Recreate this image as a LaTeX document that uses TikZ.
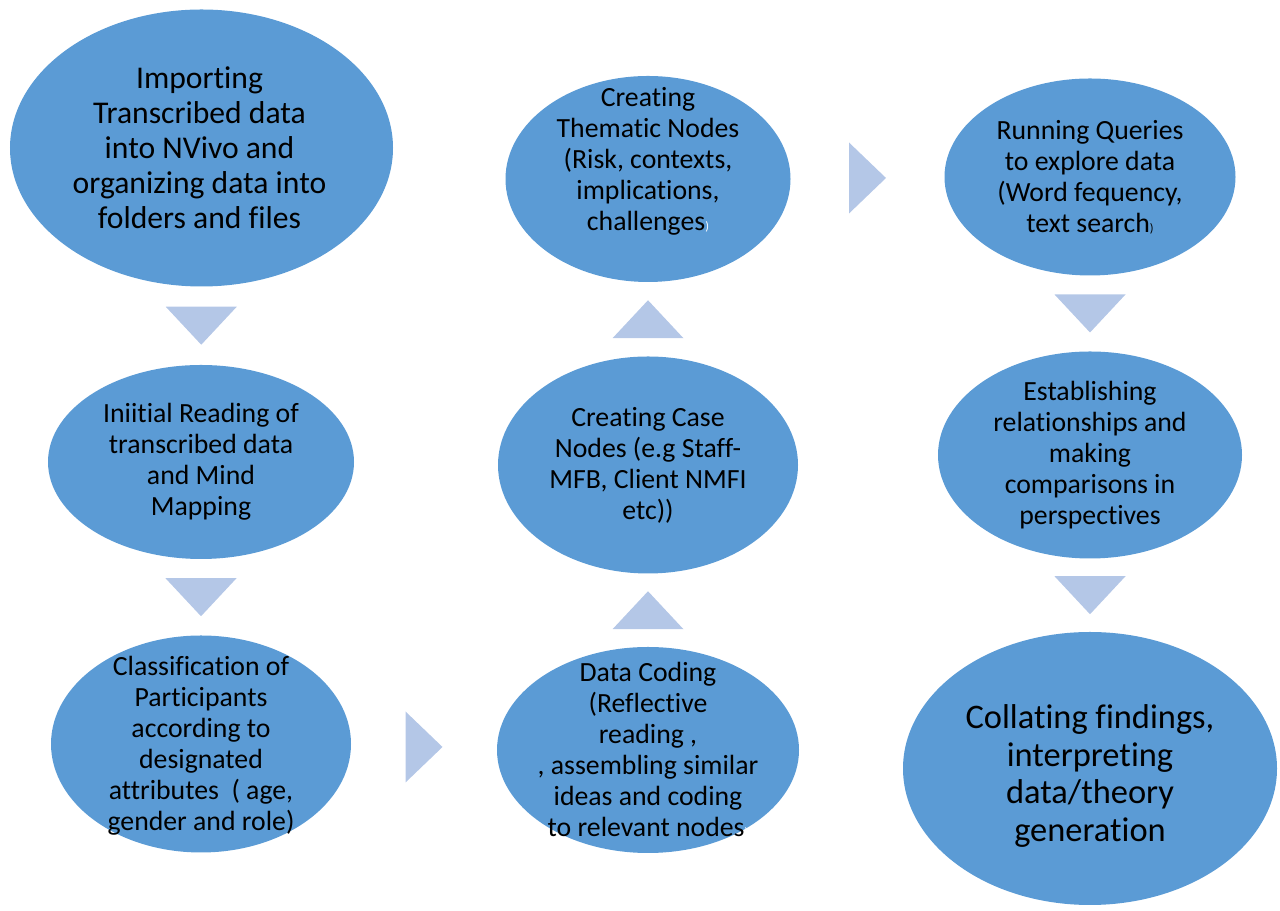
\documentclass[tikz,border=0pt]{standalone}
\usepackage{fontspec}
\setmainfont{Carlito}[Ligatures=NoCommon]
\usetikzlibrary{shapes.geometric,calc}
\definecolor{blobblue}{HTML}{5B9BD5}
\definecolor{triblue}{HTML}{B4C7E7}

\begin{document}
\begin{tikzpicture}[
  blob/.style={ellipse, fill=blobblue, inner sep=0pt},
  txt/.style={align=center, inner sep=0pt, font=\fontsize{15.8}{17.6}\selectfont},
  bigtxt/.style={txt, font=\fontsize{18}{19.9}\selectfont},
  hugetxt/.style={txt, font=\fontsize{19.6}{21.6}\selectfont},
  tri/.style={fill=triblue}]
\useasboundingbox (0,0) rectangle (25.6,18.22);
\node[blob, minimum width=7.66cm, minimum height=5.54cm] (imp) at (4.03,15.26) {};
\node[bigtxt] (impT) at (3.99,15.26) {Importing\\Transcribed data\\into NVivo and\\organizing data into\\folders and files};
\node[blob, minimum width=6.12cm, minimum height=3.88cm] (read) at (4.02,8.98) {};
\node[txt] (readT) at (read) {Iniitial Reading of\\transcribed data\\and Mind\\Mapping};
\node[blob, minimum width=6.00cm, minimum height=4.34cm] (class) at (4.02,3.34) {};
\node[txt] (classT) at (4.02,3.30) {Classification of\\Participants\\according to\\designated\\attributes~~( age,\\gender and role)};
\node[blob, minimum width=6.04cm, minimum height=4.12cm] (code) at (12.96,3.22) {};
\node[txt] (codeT) at (12.96,3.22) {Data Coding\\(Reflective\\reading ,\\, assembling similar\\ideas and coding\\to relevant nodes{\color{white}\scriptsize)}};
\node[blob, minimum width=6.00cm, minimum height=4.34cm] (case) at (12.96,8.92) {};
\node[txt] (caseT) at (case) {Creating Case\\Nodes (e.g Staff-\\MFB, Client NMFI\\etc))};
\node[blob, minimum width=5.70cm, minimum height=4.12cm] (them) at (12.96,14.64) {};
\node[txt] (themT) at (12.96,15.00) {Creating\\Thematic Nodes\\(Risk, contexts,\\implications,\\challenges{\color{white}\scriptsize)}};
\node[blob, minimum width=5.82cm, minimum height=3.94cm] (query) at (21.8,14.68) {};
\node[txt] (queryT) at (query) {Running Queries\\to explore data\\(Word fequency,\\text search{\scriptsize)}};
\node[blob, minimum width=6.08cm, minimum height=4.14cm] (estab) at (21.8,9.12) {};
\node[txt] (estabT) at (estab) {Establishing\\relationships and\\making\\comparisons in\\perspectives};
\node[blob, minimum width=7.48cm, minimum height=5.46cm] (coll) at (21.8,2.85) {};
\node[hugetxt] (collT) at (21.8,2.70) {Collating findings,\\interpreting\\data/theory\\generation};
\coordinate (m1) at ($(imp.south)!.5!(read.north)$);
\coordinate (m2) at ($(read.south)!.5!(class.north)$);
\coordinate (m3) at ($(class.east)!.5!(code.west)$);
\coordinate (m4) at ($(code.north)!.5!(case.south)$);
\coordinate (m5) at ($(case.north)!.5!(them.south)$);
\coordinate (m6) at ($(them.east)!.5!(query.west)$);
\coordinate (m7) at ($(query.south)!.5!(estab.north)$);
\coordinate (m8) at ($(estab.south)!.5!(coll.north)$);
\fill[tri, shift={(m1)}] (-0.71,0.38) -- (0.71,0.38) -- (0,-0.38) -- cycle;
\fill[tri, shift={(m2)}] (-0.71,0.38) -- (0.71,0.38) -- (0,-0.38) -- cycle;
\fill[tri, shift={(m3)}] (-0.37,0.71) -- (-0.37,-0.71) -- (0.37,0) -- cycle;
\fill[tri, shift={(m4)}] (-0.71,-0.38) -- (0.71,-0.38) -- (0,0.38) -- cycle;
\fill[tri, shift={(m5)}] (-0.71,-0.38) -- (0.71,-0.38) -- (0,0.38) -- cycle;
\fill[tri, shift={(m6)}] (-0.37,0.71) -- (-0.37,-0.71) -- (0.37,0) -- cycle;
\fill[tri, shift={(m7)}] (-0.71,0.38) -- (0.71,0.38) -- (0,-0.38) -- cycle;
\fill[tri, shift={(m8)}] (-0.71,0.38) -- (0.71,0.38) -- (0,-0.38) -- cycle;
\end{tikzpicture}
\end{document}
